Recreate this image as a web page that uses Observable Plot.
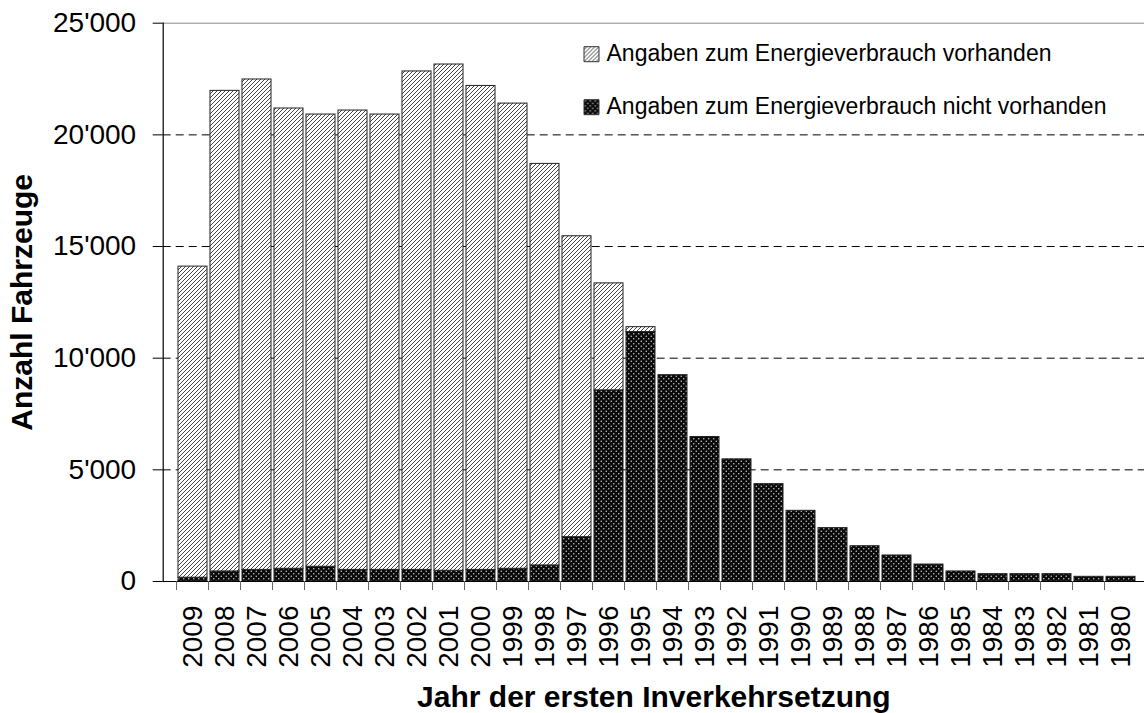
<!DOCTYPE html>
<html><head><meta charset="utf-8">
<script src="https://cdn.jsdelivr.net/npm/d3@7"></script>
<script src="https://cdn.jsdelivr.net/npm/@observablehq/plot@0.6"></script>
<style>body{margin:0;background:#fff}</style>
</head><body>
<svg width="0" height="0" style="position:absolute">
  <defs>
    <pattern id="hatch" patternUnits="userSpaceOnUse" width="4" height="4">
      <rect width="4" height="4" fill="#fff"/>
      <path d="M-1,1 l2,-2 M0,4 l4,-4 M3,5 l2,-2" stroke="#444" stroke-width="1"/>
    </pattern>
    <pattern id="dots" patternUnits="userSpaceOnUse" width="5" height="5">
      <rect width="5" height="5" fill="#0a0a0a"/>
      <circle cx="1.25" cy="1.25" r="0.75" fill="#d0d0d0"/>
      <circle cx="3.75" cy="3.75" r="0.75" fill="#d0d0d0"/>
    </pattern>
  </defs>
</svg>
<div id="chart"></div>
<script>
const years = ["2009","2008","2007","2006","2005","2004","2003","2002","2001","2000","1999","1998","1997","1996","1995","1994","1993","1992","1991","1990","1989","1988","1987","1986","1985","1984","1983","1982","1981","1980"];
const nichtVorhanden = [170,450,520,570,660,520,520,520,480,520,570,720,1985,8560,11170,9240,6470,5470,4360,3165,2390,1580,1165,760,450,330,330,330,210,210];
const vorhanden = [13930,21520,21960,20610,20250,20570,20390,22320,22670,21670,20830,17980,13475,4790,220,0,0,0,0,0,0,0,0,0,0,0,0,0,0,0];
const yTicks = [0,5000,10000,15000,20000,25000];
const seriesNames = ["Angaben zum Energieverbrauch nicht vorhanden","Angaben zum Energieverbrauch vorhanden"];
const legendOrder = ["Angaben zum Energieverbrauch vorhanden","Angaben zum Energieverbrauch nicht vorhanden"];
const xTitle = "Jahr der ersten Inverkehrsetzung";
const yTitle = "Anzahl Fahrzeuge";

const rows = [];
years.forEach((y, i) => {
  rows.push({year: y, type: seriesNames[0], value: nichtVorhanden[i]});
  if (vorhanden[i] > 0) rows.push({year: y, type: seriesNames[1], value: vorhanden[i]});
});

const W = 1144, H = 713;
const x0 = 162.7, x1 = 1150;
const step = (x1 - x0) / years.length;
const fmt = d3.formatLocale({decimal: ".", thousands: "'", grouping: [3], currency: ["", ""]}).format(",");

const legendMarks = legendOrder.flatMap((name, i) => [
  Plot.dot([name], {fill: d => d, frameAnchor: "top-left", dx: 428.3, dy: 31 + i * 53, symbol: "square", r: 8.46, stroke: "#333", strokeWidth: 1}),
  Plot.text([name], {text: d => d, frameAnchor: "top-left", lineAnchor: "middle", dx: 443.3, dy: 30.6 + i * 53, textAnchor: "start", fontSize: 23, fill: "#000"})
]);

const chart = Plot.plot({
  width: W, height: H,
  marginLeft: x0, marginRight: 0, marginTop: 22.7, marginBottom: 132,
  style: {fontFamily: "'Liberation Sans', Arial, sans-serif", background: "#fff", color: "#000"},
  x: {type: "band", domain: years, range: [x0, x1], paddingInner: 0.1, paddingOuter: 0.05},
  y: {domain: [0, 25000]},
  color: {type: "ordinal", domain: seriesNames, range: ["url(#dots)", "url(#hatch)"]},
  marks: [
    Plot.ruleY(yTicks.filter(t => t > 0 && t < 25000), {stroke: "#000", strokeDasharray: "8,5", strokeWidth: 1}),
    Plot.ruleY([25000], {stroke: "#888", strokeWidth: 1}),
    Plot.barY(rows, {x: "year", y: "value", fill: "type", stroke: "#222", strokeWidth: 1}),
    Plot.ruleY([0], {stroke: "#000", strokeWidth: 1.2}),
    Plot.frame({anchor: "left", stroke: "#000", strokeWidth: 1.2}),
    Plot.axisY({ticks: yTicks, tickFormat: fmt, tickSize: 10, tickPadding: 17, fontSize: 28, label: null}),
    Plot.axisX({tickSize: 0, tickPadding: 24, tickRotate: -90, fontSize: 28, label: null}),
    Plot.axisX({tickSize: 9, tickFormat: () => "", dx: -step / 2, stroke: "#666", label: null}),
    Plot.text([yTitle], {text: d => d, frameAnchor: "left", textAnchor: "middle", lineAnchor: "middle", dx: -141, rotate: -90, fontSize: 30, fontWeight: "bold", fill: "#000"}),
    Plot.text([xTitle], {text: d => d, frameAnchor: "bottom", lineAnchor: "middle", dy: 115.5, fontSize: 30, fontWeight: "bold", fill: "#000"}),
    ...legendMarks
  ]
});
document.getElementById("chart").appendChild(chart);
</script>
</body></html>
